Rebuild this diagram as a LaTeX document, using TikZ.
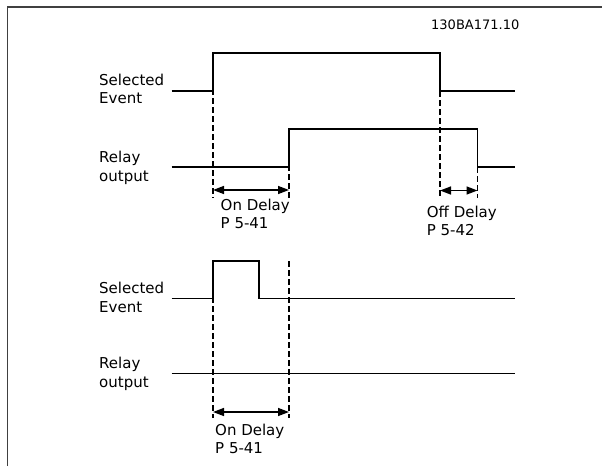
\documentclass[tikz,border=0pt]{standalone}
\usepackage{fontspec}
\setmainfont{DejaVu Sans}
\usetikzlibrary{arrows.meta}
\begin{document}
\begin{tikzpicture}[
    x=1pt, y=-1pt,
    wave/.style={line width=1.4pt, line join=miter},
    guide/.style={line width=1.2pt, dash pattern=on 6pt off 3pt},
    delay/.style={
      line width=1.4pt,
      {Triangle[length=11pt,width=8pt]}-{Triangle[length=11pt,width=8pt]}
    },
    siglabel/.style={
      anchor=west,
      align=left,
      inner sep=0pt,
      font=\fontsize{15}{18.5}\selectfont
    }
  ]
  \useasboundingbox (0,0) rectangle (602,466);
  \draw[line width=1.6pt, black!75] (7.5,466) -- (7.5,7) -- (602,7);
  \node[anchor=west, inner sep=0pt, font=\fontsize{13}{15}\selectfont] (code) at (431,25) {130BA171.10};

  % upper diagram: long event
  \node[siglabel] (evtlbl) at (99,89) {Selected\\Event};
  \node[siglabel] (rlylbl) at (99,167.8) {Relay\\output};
  \draw[wave] (171.5,91) -- (213,91) -- (213,53) -- (440,53) -- (440,91) -- (515,91);
  \draw[wave] (171.5,167) -- (289,167) -- (289,129) -- (477.5,129) -- (477.5,167) -- (515,167);
  \foreach \x/\y in {213/53, 289/129, 440/91, 477.5/167}
    \draw[guide] (\x,\y) -- (\x,198);
  \coordinate (onL) at (213,190);
  \coordinate (onR) at (289,190);
  \coordinate (offL) at (440,190.5);
  \coordinate (offR) at (477.5,190.5);
  \draw[delay] (onL) -- (onR);
  \draw[delay] (offL) -- (offR);
  \node[siglabel] (ondly) at (220.5,214) {On Delay\\P 5-41};
  \node[siglabel] (offdly) at (426.7,220.7) {Off Delay\\P 5-42};

  % lower diagram: short event
  \node[siglabel] (evtlblb) at (99,297.3) {Selected\\Event};
  \node[siglabel] (rlylblb) at (99,374) {Relay\\output};
  \draw[wave] (171.5,298.3) -- (213,298.3) -- (213,261) -- (259,261) -- (259,298.3) -- (515,298.3);
  \draw[wave] (171.5,373.5) -- (515,373.5);
  \foreach \x in {213, 289}
    \draw[guide] (\x,261) -- (\x,418);
  \coordinate (onLb) at (213,412);
  \coordinate (onRb) at (289,412);
  \draw[delay] (onLb) -- (onRb);
  \node[siglabel] (ondlyb) at (215,439) {On Delay\\P 5-41};
\end{tikzpicture}
\end{document}
